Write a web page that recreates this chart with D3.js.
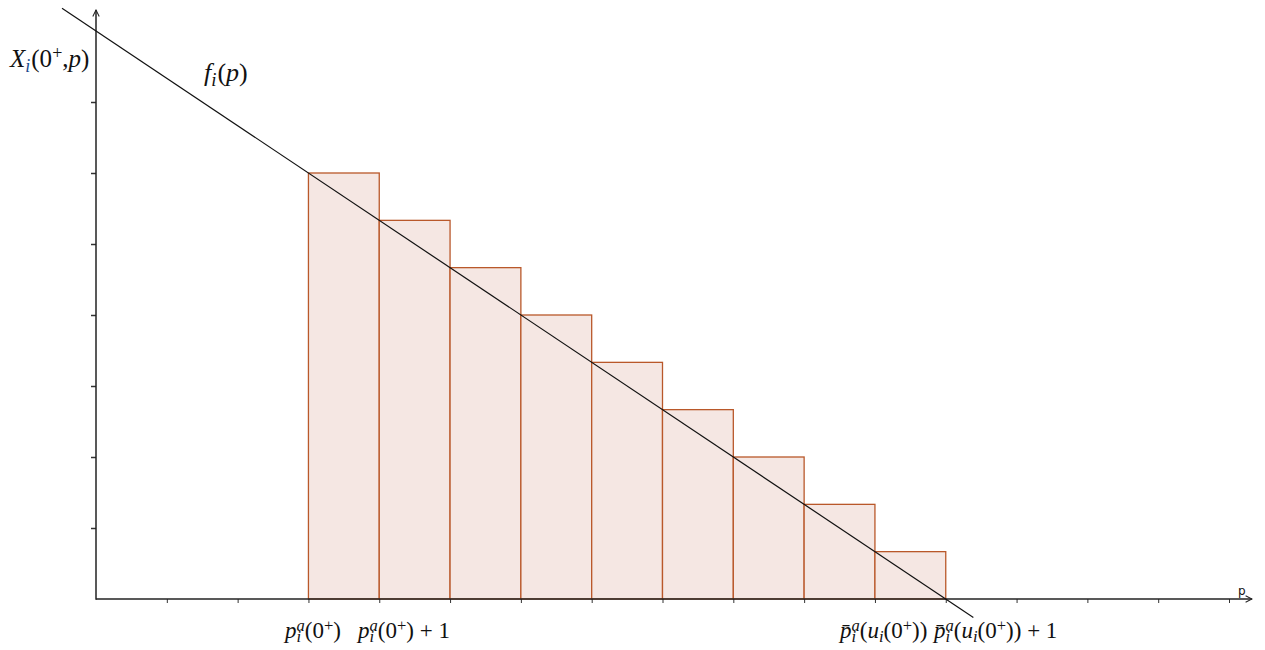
<!DOCTYPE html>
<html>
<head>
<meta charset="utf-8">
<script src="https://cdn.jsdelivr.net/npm/d3@7"></script>
<style>
  body { margin: 0; background: #fff; }
  .math { font-family: 'Liberation Serif', 'Times New Roman', serif; fill: #111; }
</style>
</head>
<body>
<div id="chart"></div>
<script>
// step positions (p) and bar heights
const barStarts = [3, 4, 5, 6, 7, 8, 9, 10, 11];
const barHeights = [6, 5.333, 4.667, 4, 3.333, 2.667, 2, 1.333, 0.667];
const xTicks = d3.range(1, 17);
const yTicks = d3.range(1, 8);
// f_i(p) endpoints
const lineP = [-0.48, 12.39];
const lineX = [8.32, -0.26];

const width = 1265, height = 650;
const x = d3.scaleLinear().domain([0, 16]).range([96, 1229]);
const y = d3.scaleLinear().domain([0, 7]).range([599, 102]);

const svg = d3.select('#chart').append('svg')
  .attr('width', width)
  .attr('height', height);

svg.append('defs').append('marker')
  .attr('id', 'arrow')
  .attr('viewBox', '0 0 10 10')
  .attr('refX', 9).attr('refY', 5)
  .attr('markerWidth', 8).attr('markerHeight', 8)
  .attr('markerUnits', 'userSpaceOnUse')
  .attr('orient', 'auto')
  .append('path')
    .attr('d', 'M1,1 L9,5 L1,9')
    .attr('fill', 'none')
    .attr('stroke', '#222')
    .attr('stroke-width', 1.3);

// bars
svg.append('g').selectAll('rect')
  .data(barStarts)
  .enter().append('rect')
    .attr('x', (d) => x(d))
    .attr('y', (d, i) => y(barHeights[i]))
    .attr('width', (d) => x(d + 1) - x(d))
    .attr('height', (d, i) => y(0) - y(barHeights[i]))
    .attr('fill', '#f5e7e3')
    .attr('stroke', '#b9582a')
    .attr('stroke-width', 1.3);

// axes
const xAxis = svg.append('g')
  .attr('transform', `translate(0, ${y(0)})`)
  .call(d3.axisBottom(x).tickValues(xTicks).tickSize(4).tickFormat(''));
xAxis.select('.domain').remove();
xAxis.selectAll('line').attr('stroke', '#333');

const yAxis = svg.append('g')
  .attr('transform', `translate(${x(0)}, 0)`)
  .call(d3.axisLeft(y).tickValues(yTicks).tickSize(5).tickFormat(''));
yAxis.select('.domain').remove();
yAxis.selectAll('line').attr('stroke', '#333').attr('stroke-width', 1.5);

svg.append('line')
  .attr('x1', x(0)).attr('y1', y(0))
  .attr('x2', 1252).attr('y2', y(0))
  .attr('stroke', '#222').attr('stroke-width', 1.5)
  .attr('marker-end', 'url(#arrow)');

svg.append('line')
  .attr('x1', x(0)).attr('y1', y(0) + 0.75)
  .attr('x2', x(0)).attr('y2', 10)
  .attr('stroke', '#222').attr('stroke-width', 1.5)
  .attr('marker-end', 'url(#arrow)');

// f_i(p)
svg.append('line')
  .attr('x1', x(lineP[0])).attr('y1', y(lineX[0]))
  .attr('x2', x(lineP[1])).attr('y2', y(lineX[1]))
  .attr('stroke', '#111').attr('stroke-width', 1.2);

// labels; a part with stack:true sits right above the previous subscript
function mathLabel(px, py, size, parts) {
  const t = svg.append('text')
    .attr('class', 'math')
    .attr('x', px).attr('y', py)
    .attr('font-size', size);
  let prev = null;
  parts.forEach((p) => {
    const s = t.append('tspan').text(p.t);
    if (p.it) s.attr('font-style', 'italic');
    if (p.sub) s.attr('baseline-shift', '-25%').attr('font-size', size * 0.72);
    if (p.sup) s.attr('baseline-shift', '42%').attr('font-size', size * 0.72);
    if (p.stack && prev) s.attr('dx', -prev.node().getComputedTextLength());
    if (p.color) s.attr('fill', p.color);
    if (p.dx) s.attr('dx', p.dx);
    prev = s;
  });
  return t;
}

mathLabel(10, 67, 25, [
  {t: 'X', it: true}, {t: 'i', it: true, sub: true, color: '#1a4d8f'},
  {t: '(0', dx: 1}, {t: '+', sup: true}, {t: ','}, {t: 'p', it: true}, {t: ')'}
]);

mathLabel(204, 81, 26, [
  {t: 'f', it: true}, {t: 'i', it: true, sub: true}, {t: '(', dx: 1}, {t: 'p', it: true}, {t: ')'}
]);

mathLabel(285, 638, 23, [
  {t: 'p', it: true}, {t: 'i', it: true, sub: true}, {t: 'a', it: true, sup: true, stack: true},
  {t: '(0'}, {t: '+', sup: true}, {t: ')'}
]);
mathLabel(358, 638, 23, [
  {t: 'p', it: true}, {t: 'i', it: true, sub: true}, {t: 'a', it: true, sup: true, stack: true},
  {t: '(0'}, {t: '+', sup: true}, {t: ') + 1'}
]);
mathLabel(840, 638, 23, [
  {t: 'p̄', it: true}, {t: 'i', it: true, sub: true}, {t: 'a', it: true, sup: true, stack: true},
  {t: '('}, {t: 'u', it: true}, {t: 'i', it: true, sub: true},
  {t: '(0'}, {t: '+', sup: true}, {t: '))'}
]);
mathLabel(934, 638, 23, [
  {t: 'p̄', it: true}, {t: 'i', it: true, sub: true}, {t: 'a', it: true, sup: true, stack: true},
  {t: '('}, {t: 'u', it: true}, {t: 'i', it: true, sub: true},
  {t: '(0'}, {t: '+', sup: true}, {t: ')) + 1'}
]);

svg.append('text')
  .attr('x', 1238).attr('y', 595)
  .attr('font-family', 'DejaVu Sans, sans-serif')
  .attr('font-size', 12)
  .attr('fill', '#111')
  .text('p');
</script>
</body>
</html>
